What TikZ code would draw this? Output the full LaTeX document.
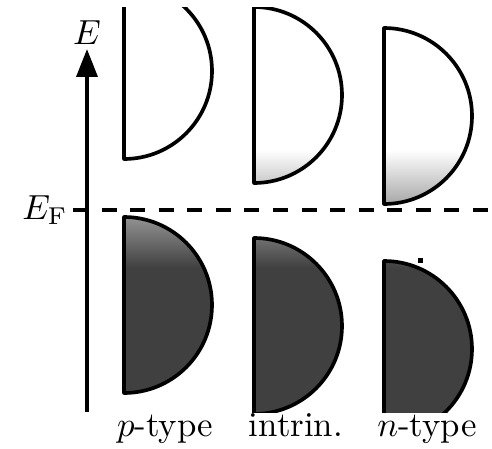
\documentclass[tikz,border=0pt]{standalone}
\usepackage{amsmath,amssymb}
\usepackage{tikz}
\usetikzlibrary{arrows.meta}
\usepackage{xcolor}
\definecolor{bandfill}{gray}{0.25}

\begin{document}
\begin{tikzpicture}[x=0.287pt,y=0.287pt,>={Triangle[length=8pt,width=6pt]},
  band/.style={line width=1.05pt,line join=round},
  lbl/.style={anchor=base,inner sep=0pt}]
\useasboundingbox (0,0) rectangle (492,448);
% energy axis and Fermi level
\node (E) at (87,415) {$E$};
\node (EF) at (45,238) {$E_{\mathrm{F}}$};
\coordinate (axbot) at (87,36);
\coordinate (axtop) at (87,399);
\coordinate (efL) at (73,238);
\coordinate (efR) at (492,238);
\draw[dash pattern=on 4.3pt off 3.9pt,line width=1.05pt] (efL) -- (efR);
\draw[->,line width=1.05pt] (axbot) -- (axtop);
% bands (conduction above, valence below), shaded by occupation
\begin{scope}
\clip (0,36) rectangle (492,441);
\begin{scope}
\clip foreach \x/\yc in {124/377,254/353,384/332,124/143,254/122,384/99}
  {(\x,\yc+88) arc[start angle=90,end angle=-90,radius=88] -- cycle};
\fill[white] (100,298) rectangle (492,470);
\shade[bottom color=bandfill,top color=white] (100,180) rectangle (492,298);
\fill[bandfill] (100,0) rectangle (492,180);
\end{scope}
\foreach \x/\yc in {124/377,254/353,384/332,124/143,254/122,384/99}
  \draw[band] (\x,\yc+88) arc[start angle=90,end angle=-90,radius=88] -- cycle;
\end{scope}
\fill (418,185) rectangle (423,190);
% labels
\node[lbl] (ptype) at (165,12) {$p$-type};
\node[lbl] (intrin) at (296,12) {intrin.};
\node[lbl] (ntype) at (427,12) {$n$-type};
\end{tikzpicture}
\end{document}
